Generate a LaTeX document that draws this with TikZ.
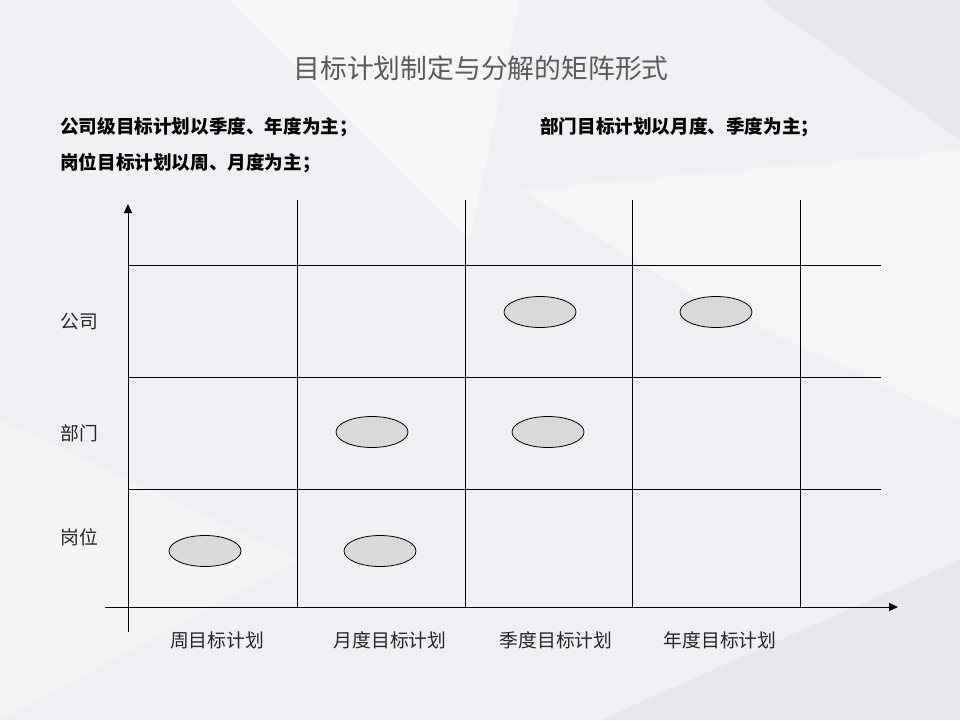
\documentclass[tikz,border=0pt]{standalone}
\usepackage{fontspec}
\setmainfont{Noto Sans CJK SC}
\usepackage{tikz}
\usetikzlibrary{shapes.geometric}
\usetikzlibrary{arrows.meta}
\definecolor{bgcol}{RGB}{238,240,243}
\definecolor{titlecol}{RGB}{90,90,90}
\definecolor{ovalcol}{RGB}{217,217,217}
\tikzstyle{grid_line}=[draw=black, line width=1pt]
\tikzstyle{axis_line}=[grid_line, -{Triangle[length=9pt,width=8pt]}]
\tikzstyle{level_oval}=[ellipse, draw=black, line width=0.8pt, fill=ovalcol, minimum width=72pt, minimum height=31pt, inner sep=0pt]
\tikzstyle{note_text}=[anchor=west, inner sep=0pt, font=\fontsize{18.6}{22}\selectfont\bfseries]
\tikzstyle{axis_label}=[inner sep=0pt, font=\fontsize{18.8}{22}\selectfont, text=black!85]

\begin{document}
\begin{tikzpicture}[x=1pt,y=-1pt]
\useasboundingbox (0,0) rectangle (960,720);
\fill[bgcol] (0,0) rectangle (960,720);
% faint background facets
\fill[white,opacity=0.45] (230,0) -- (520,0) -- (470,240) -- cycle;
\fill[white,opacity=0.35] (520,190) -- (960,150) -- (960,420) -- (700,300) -- cycle;
\fill[white,opacity=0.3] (0,420) -- (300,560) -- (0,720) -- cycle;
\fill[black,opacity=0.03] (760,0) -- (960,0) -- (960,140) -- cycle;
\fill[black,opacity=0.03] (600,720) -- (960,560) -- (960,720) -- cycle;

% title and notes
\node[inner sep=0pt, text=titlecol, font=\fontsize{26.8}{30}\selectfont] (title) at (481,68) {目标计划制定与分解的矩阵形式};
\node[note_text] (note1) at (60,127) {公司级目标计划以季度、年度为主；};
\node[note_text] (note2) at (540,127) {部门目标计划以月度、季度为主；};
\node[note_text] (note3) at (60,163) {岗位目标计划以周、月度为主；};

% axes
\coordinate (yfoot) at (128,632);
\coordinate (ytip) at (128,204);
\coordinate (xfoot) at (105,607);
\coordinate (xtip) at (898,607);
\draw[axis_line](yfoot) -- (ytip);
\draw[axis_line](xfoot) -- (xtip);

% grid
\coordinate (v1b) at (297,607);
\coordinate (v1t) at (297,200);
\coordinate (v2b) at (465,607);
\coordinate (v2t) at (465,200);
\coordinate (v3b) at (632,607);
\coordinate (v3t) at (632,200);
\coordinate (v4b) at (800,607);
\coordinate (v4t) at (800,200);
\draw[grid_line](v1b) -- (v1t);
\draw[grid_line](v2b) -- (v2t);
\draw[grid_line](v3b) -- (v3t);
\draw[grid_line](v4b) -- (v4t);
\coordinate (h1l) at (128,265);
\coordinate (h1r) at (881,265);
\coordinate (h2l) at (128,377);
\coordinate (h2r) at (881,377);
\coordinate (h3l) at (128,489);
\coordinate (h3r) at (881,489);
\draw[grid_line](h1l) -- (h1r);
\draw[grid_line](h2l) -- (h2r);
\draw[grid_line](h3l) -- (h3r);

% row labels
\node[axis_label, anchor=west] (company) at (60,321) {公司};
\node[axis_label, anchor=west] (dept) at (60,433) {部门};
\node[axis_label, anchor=west] (post) at (60,537) {岗位};

% column labels
\node[axis_label] (week) at (217,640) {周目标计划};
\node[axis_label] (month) at (390,640) {月度目标计划};
\node[axis_label] (quarter) at (556,640) {季度目标计划};
\node[axis_label] (year) at (720,640) {年度目标计划};

% plan levels
\node[level_oval] (cq) at (540,312) {};
\node[level_oval] (cy) at (716,312) {};
\node[level_oval] (dm) at (372,432) {};
\node[level_oval] (dq) at (548,432) {};
\node[level_oval] (pw) at (205,551) {};
\node[level_oval] (pm) at (380,551) {};
\end{tikzpicture}
\end{document}
